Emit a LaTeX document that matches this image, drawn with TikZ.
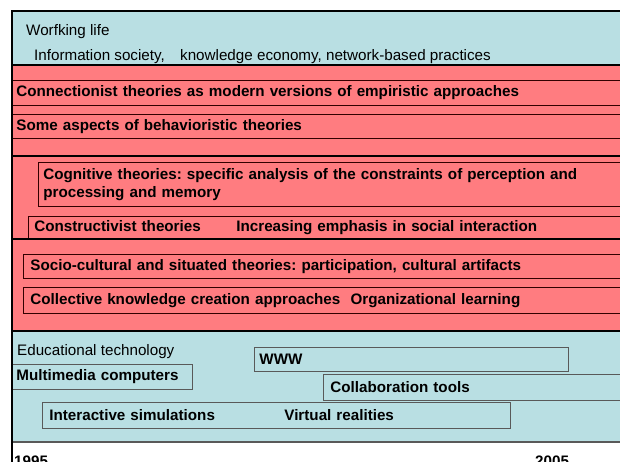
\documentclass[tikz,border=0pt]{standalone}
\usepackage{fontspec}
\setmainfont{Liberation Sans}
\definecolor{bgblue}{RGB}{185,223,227}
\definecolor{bgred}{RGB}{255,124,128}
\begin{document}
\frenchspacing
\begin{tikzpicture}[x=1pt,y=-1pt,
  txt/.style={font=\fontsize{15.2}{18}\selectfont, inner sep=0pt, anchor=base west},
  btxt/.style={txt, font=\fontsize{15.2}{18}\selectfont\bfseries},
  rbox/.style={draw=black!80!red, line width=0.8pt, fill=bgred, anchor=north west,
    inner xsep=5pt, inner ysep=0pt, align=left, font=\fontsize{15.2}{17.5}\selectfont\bfseries},
  bbox/.style={rbox, draw=black!65, fill=bgblue},
  rule/.style={line width=#1}]
\useasboundingbox (0,0) rectangle (620,461);
\fill[white] (0,0) rectangle (620,461);
\clip (0,0) rectangle (620,461);
% working life band
\fill[bgblue] (12,11) rectangle (620,65);
\node[txt] (wl) at (26,35) {Worfking life};
\node[txt] (is) at (34,60) {\makebox[146pt][l]{Information society,}knowledge economy, network-based practices};
% theories band
\fill[bgred] (12,65) rectangle (620,331);
\draw[rule=1.2pt] (12,65) -- (620,65);
\node[rbox, minimum height=25pt, text width=620pt] (conn) at (11,80) {Connectionist theories as modern versions of empiristic approaches};
\node[rbox, minimum height=24pt, text width=620pt] (beh) at (11,114) {Some aspects of behavioristic theories};
\draw[rule=2.5pt] (12,156) -- (620,156);
\node[rbox, minimum height=44pt, text width=600pt] (cog) at (38,162) {Cognitive theories: specific analysis of the constraints of perception and\\processing and memory};
\node[rbox, minimum height=23pt, text width=610pt, inner xsep=6pt] (con) at (28,216) {\makebox[202pt][l]{Constructivist theories}Increasing emphasis in social interaction};
\draw[rule=2pt] (12,239) -- (620,239);
\node[rbox, minimum height=24pt, text width=610pt, inner xsep=7pt] (soc) at (23,254) {Socio-cultural and situated theories: participation, cultural artifacts};
\node[rbox, minimum height=26pt, text width=610pt, inner xsep=7pt] (col) at (23,287) {Collective knowledge creation approaches\ \ Organizational learning};
% technology band
\fill[bgblue] (12,331) rectangle (620,442);
\draw[rule=1.2pt] (12,331) -- (620,331);
\draw[rule=1.2pt, black!65] (12,442) -- (620,442);
\node[txt] (et) at (17,355) {Educational technology};
\node[bbox, minimum height=24pt, text width=304pt] (www) at (254,347) {WWW};
\node[bbox, minimum height=25pt, text width=171pt] (mm) at (11,364) {Multimedia computers};
\node[bbox, minimum height=26pt, text width=300pt, inner xsep=7pt] (ct) at (323,374) {Collaboration tools};
\node[bbox, minimum height=26pt, text width=454pt, inner xsep=7pt] (iv) at (42,402) {\makebox[235pt][l]{Interactive simulations}Virtual realities};
% frame
\draw[rule=2.5pt] (12,462) -- (12,11) -- (621,11);
% years
\node[btxt] (y1) at (14,466) {1995};
\node[btxt] (y2) at (535,466) {2005};
\end{tikzpicture}
\end{document}
